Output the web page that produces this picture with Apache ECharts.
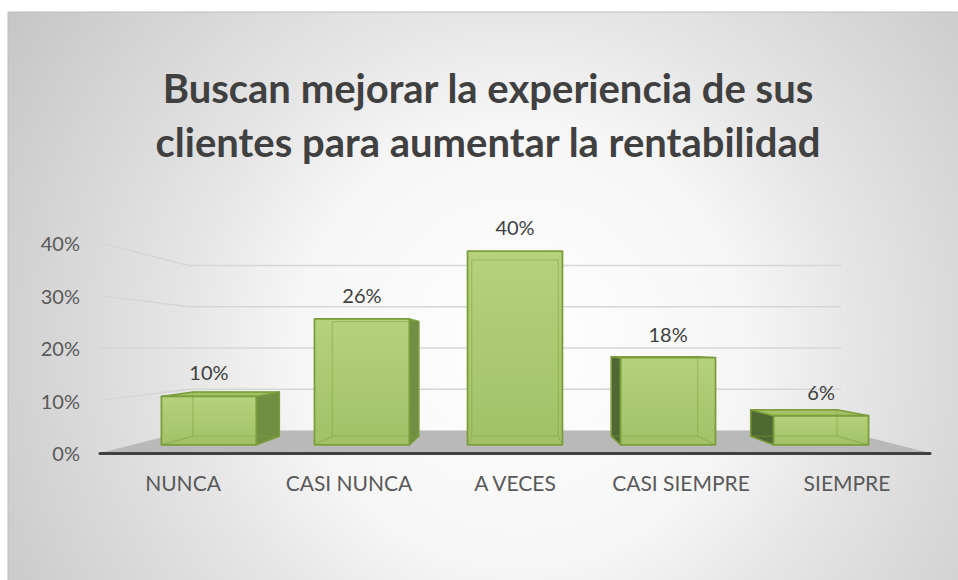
<!DOCTYPE html>
<html>
<head>
<meta charset="utf-8">
<script src="https://cdn.jsdelivr.net/npm/echarts@6/dist/echarts.min.js"></script>
<style>html,body{margin:0;padding:0;background:#fff;}#c{width:958px;height:580px;}</style>
</head>
<body>
<div id="c"></div>
<script>
const categories = ['NUNCA', 'CASI NUNCA', 'A VECES', 'CASI SIEMPRE', 'SIEMPRE'];
const values = [10, 26, 40, 18, 6];
const yTicks = [0, 10, 20, 30, 40];
const titleLines = ['Buscan mejorar la experiencia de sus', 'clientes para aumentar la rentabilidad'];

const FONT = 'Lato, "Open Sans", sans-serif';
const EYE = 20;          // eye level (value) for the perspective
const R_BAR_FRONT = 0.922;
const R_BAR_BACK = 0.84;
const R_WALL = 0.786;
const BAR_FRAC = 0.62;

function persp(vp, x, y, r) { return [vp[0] + (x - vp[0]) * r, vp[1] + (y - vp[1]) * r]; }
function vanish(api) { return api.coord([(categories.length - 1) / 2, EYE]); }

const chart = echarts.init(document.getElementById('c'), null, { renderer: 'svg' });

const option = {
  backgroundColor: '#ffffff',
  animation: false,
  graphic: [
    {
      type: 'rect', z: -10, silent: true,
      shape: { x: 8, y: 12, width: 960, height: 580 },
      style: {
        fill: new echarts.graphic.RadialGradient(520, 345, 640, [
          { offset: 0, color: '#ffffff' },
          { offset: 0.35, color: '#f6f6f6' },
          { offset: 0.52, color: '#e6e6e6' },
          { offset: 0.8, color: '#d1d1d1' },
          { offset: 1, color: '#c2c2c2' }
        ], true),
        stroke: '#bdbdbd', lineWidth: 1
      }
    },
    {
      type: 'text', z: 10, x: 488, y: 88,
      style: { text: titleLines[0], textAlign: 'center', textVerticalAlign: 'middle',
        font: 'bold 40px ' + FONT, fill: '#404040' }
    },
    {
      type: 'text', z: 10, x: 488, y: 142,
      style: { text: titleLines[1], textAlign: 'center', textVerticalAlign: 'middle',
        font: 'bold 40px ' + FONT, fill: '#404040' }
    }
  ],
  grid: { left: 100, right: 28, top: 243, bottom: 127 },
  xAxis: {
    type: 'category', data: categories, z: 5,
    axisLine: { show: true, lineStyle: { color: '#404040', width: 3 } },
    axisTick: { show: false },
    axisLabel: { color: '#595959', fontSize: 21, fontFamily: FONT, margin: 19, interval: 0, hideOverlap: false },
    splitLine: { show: false }
  },
  yAxis: {
    type: 'value', min: 0, max: 40, interval: 10,
    axisLine: { show: false }, axisTick: { show: false },
    splitLine: { show: false },
    axisLabel: { color: '#595959', fontSize: 20, fontFamily: FONT, margin: 20, formatter: '{value}%' }
  },
  series: [
    {
      // floor
      type: 'custom', z: 1, silent: true,
      data: [[0, 0]],
      renderItem: function (params, api) {
        const vp = vanish(api);
        const band = api.size([1, 0])[0];
        const l = api.coord([0, 0]); const r = api.coord([categories.length - 1, 0]);
        const fl = [l[0] - band / 2, l[1]], fr = [r[0] + band / 2, r[1]];
        const bl = persp(vp, fl[0], fl[1], R_WALL), br = persp(vp, fr[0], fr[1], R_WALL);
        return { type: 'polygon', shape: { points: [fl, fr, br, bl] },
          style: { fill: '#b9b9b9', stroke: null } };
      }
    },
    {
      // walls (gridlines on side and back walls)
      type: 'custom', z: 1, silent: true,
      data: yTicks.filter(t => t > 0).map(t => [0, t]),
      renderItem: function (params, api) {
        const v = api.value(1);
        const vp = vanish(api);
        const band = api.size([1, 0])[0];
        const l = api.coord([0, v]); const r = api.coord([categories.length - 1, v]);
        const fl = [l[0] - band / 2, l[1]];
        const bl = persp(vp, fl[0], fl[1], R_WALL);
        const br = persp(vp, r[0] + band / 2, r[1], R_WALL);
        return { type: 'polyline', shape: { points: [fl, bl, br] },
          style: { stroke: '#d6d6d6', lineWidth: 1.6, fill: null } };
      }
    },
    {
      // 3D bars
      type: 'custom', z: 3,
      data: values.map((v, i) => [i, v]),
      encode: { x: 0, y: 1 },
      renderItem: function (params, api) {
        const i = api.value(0), v = api.value(1);
        const vp = vanish(api);
        const band = api.size([1, 0])[0];
        const c = api.coord([i, v]); const b = api.coord([i, 0]);
        const hw = band * BAR_FRAC / 2;
        const xl = c[0] - hw, xr = c[0] + hw, yt = c[1], yb = b[1];
        const F = (x, y) => persp(vp, x, y, R_BAR_FRONT);
        const K = (x, y) => persp(vp, x, y, R_BAR_BACK);
        const ftl = F(xl, yt), ftr = F(xr, yt), fbr = F(xr, yb), fbl = F(xl, yb);
        const ktl = K(xl, yt), ktr = K(xr, yt), kbr = K(xr, yb), kbl = K(xl, yb);
        const edge = '#7b9d3b';
        const ch = [];
        if (ftr[0] < vp[0] - 1) {
          ch.push({ type: 'polygon', shape: { points: [ftr, ktr, kbr, fbr] },
            style: { fill: '#718e42', stroke: edge, lineWidth: 1.5, lineJoin: 'round' } });
        }
        if (ftl[0] > vp[0] + 1) {
          ch.push({ type: 'polygon', shape: { points: [ftl, ktl, kbl, fbl] },
            style: { fill: '#506833', stroke: edge, lineWidth: 1.5, lineJoin: 'round' } });
        }
        if (ktl[1] < ftl[1] - 0.5) {
          ch.push({ type: 'polygon', shape: { points: [ftl, ftr, ktr, ktl] },
            style: { fill: '#a3c265', stroke: edge, lineWidth: 1.5, lineJoin: 'round' } });
        }
        ch.push({ type: 'polygon', shape: { points: [ftl, ftr, fbr, fbl] },
          style: {
            fill: new echarts.graphic.LinearGradient(0, 0, 0, 1, [
              { offset: 0, color: '#b6d27c' }, { offset: 1, color: '#a2c167' }
            ]),
            stroke: edge, lineWidth: 1.8, lineJoin: 'round'
          } });
        // faint hidden back edges (transparent look)
        ch.push({ type: 'polyline', shape: { points: [ktl, kbl, kbr, ktr, ktl] },
          style: { stroke: 'rgba(125,160,60,0.45)', lineWidth: 1.2, fill: null } });
        ch.push({ type: 'line', shape: { x1: fbl[0], y1: fbl[1], x2: kbl[0], y2: kbl[1] },
          style: { stroke: 'rgba(125,160,60,0.45)', lineWidth: 1.2 } });
        ch.push({ type: 'line', shape: { x1: fbr[0], y1: fbr[1], x2: kbr[0], y2: kbr[1] },
          style: { stroke: 'rgba(125,160,60,0.45)', lineWidth: 1.2 } });
        ch.push({ type: 'text', x: (ftl[0] + ftr[0]) / 2, y: ftl[1] - 24,
          style: { text: v + '%', textAlign: 'center', textVerticalAlign: 'middle',
            font: '20px ' + FONT, fill: '#404040' } });
        return { type: 'group', children: ch };
      }
    }
  ]
};
chart.setOption(option);
</script>
</body>
</html>
